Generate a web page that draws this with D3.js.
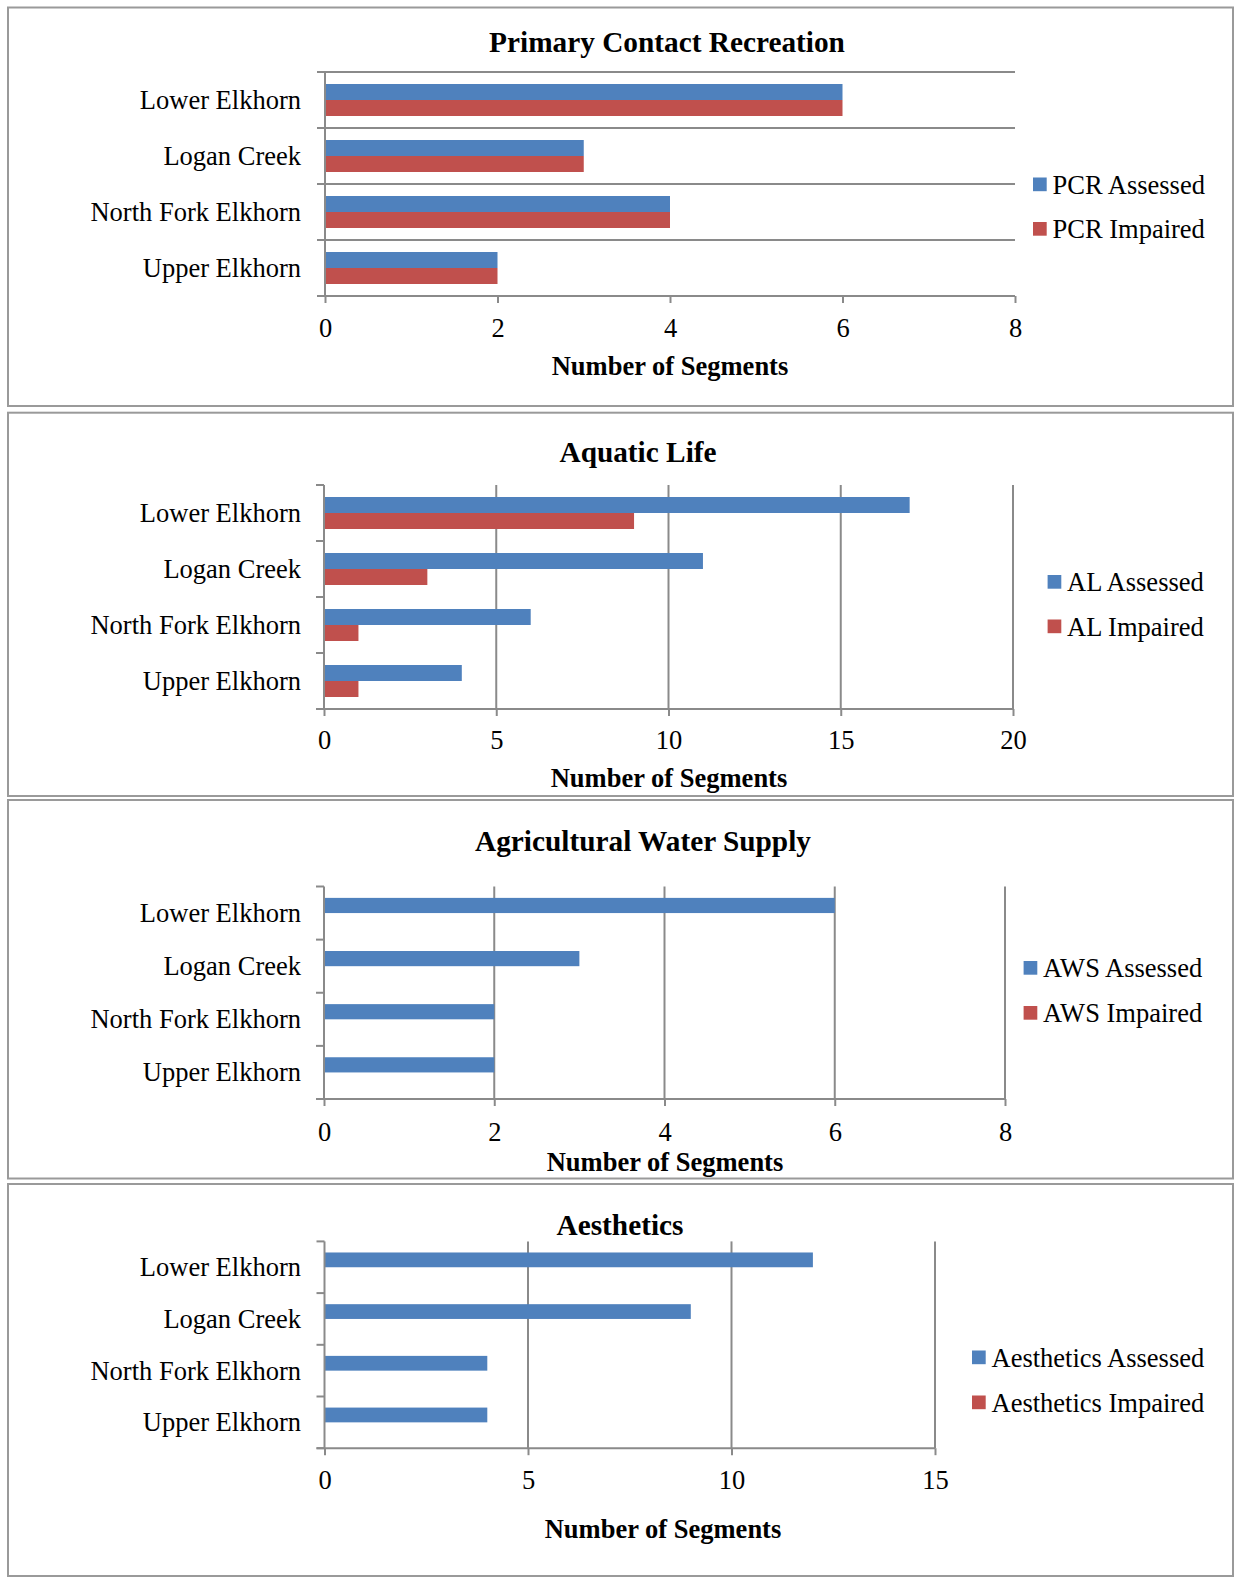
<!DOCTYPE html>
<html>
<head>
<meta charset="utf-8">
<script src="https://cdn.jsdelivr.net/npm/d3@7"></script>
<style>
  html, body { margin: 0; padding: 0; background: #ffffff; }
  svg { display: block; }
  text { font-family: "Liberation Serif", "Times New Roman", serif; fill: #000; }
</style>
</head>
<body>
<svg id="chart" width="1235" height="1579"></svg>
<script>
// Watershed segments: assessed vs. impaired, by designated use
const categories = ["Lower Elkhorn", "Logan Creek", "North Fork Elkhorn", "Upper Elkhorn"];

const pcrAssessed = [6, 3, 4, 2];
const pcrImpaired = [6, 3, 4, 2];
const alAssessed = [17, 11, 6, 4];
const alImpaired = [9, 3, 1, 1];
const awsAssessed = [6, 3, 2, 2];
const awsImpaired = [0, 0, 0, 0];
const aesAssessed = [12, 9, 4, 4];
const aesImpaired = [0, 0, 0, 0];

const pcrTicks = [0, 2, 4, 6, 8];
const alTicks = [0, 5, 10, 15, 20];
const awsTicks = [0, 2, 4, 6, 8];
const aesTicks = [0, 5, 10, 15];

const titles = ["Primary Contact Recreation", "Aquatic Life", "Agricultural Water Supply", "Aesthetics"];
const pcrLegend = ["PCR Assessed", "PCR Impaired"];
const alLegend = ["AL Assessed", "AL Impaired"];
const awsLegend = ["AWS Assessed", "AWS Impaired"];
const aesLegend = ["Aesthetics Assessed", "Aesthetics Impaired"];
const axisTitle = "Number of Segments";

const seriesColors = ["#4F81BD", "#C0504D"];
const gridColor = "#8a8a8a";
const frameColor = "#9a9a9a";
const FONT = "'Liberation Serif', 'Times New Roman', serif";
const FS = 26.5, TITLE_FS = 29.3;

const panels = [
  { title: titles[0], a: pcrAssessed, b: pcrImpaired, ticks: pcrTicks, legend: pcrLegend,
    box: [8, 7.5, 1233, 406], plot: [325, 1015, 72, 296], grid: "category",
    titleX: 667, titleY: 42, tickY: 328, axisTitleX: 670, axisTitleY: 366,
    legendX: 1033, legendY: [184.5, 229] },
  { title: titles[1], a: alAssessed, b: alImpaired, ticks: alTicks, legend: alLegend,
    box: [8, 412.7, 1233, 796], plot: [324, 1013, 485, 709], grid: "value",
    titleX: 638, titleY: 452, tickY: 740, axisTitleX: 669, axisTitleY: 778,
    legendX: 1047.6, legendY: [582, 626.5] },
  { title: titles[2], a: awsAssessed, b: awsImpaired, ticks: awsTicks, legend: awsLegend,
    box: [8, 800, 1233, 1178.5], plot: [324, 1005, 886.5, 1099], grid: "value",
    titleX: 643, titleY: 841, tickY: 1131.5, axisTitleX: 665, axisTitleY: 1162,
    legendX: 1023.6, legendY: [968, 1013] },
  { title: titles[3], a: aesAssessed, b: aesImpaired, ticks: aesTicks, legend: aesLegend,
    box: [8, 1184, 1233, 1576], plot: [324.5, 935, 1241.4, 1448.2], grid: "value",
    titleX: 620, titleY: 1225, tickY: 1480, axisTitleX: 663, axisTitleY: 1529,
    legendX: 972, legendY: [1357.5, 1402.5] }
];

const svg = d3.select("#chart");

function drawPanel(p) {
  const g = svg.append("g");
  const [bx0, by0, bx1, by1] = p.box;
  const [x0, x1, y0, y1] = p.plot;

  // frame
  g.append("rect")
    .attr("x", bx0).attr("y", by0)
    .attr("width", bx1 - bx0).attr("height", by1 - by0)
    .attr("fill", "#fff").attr("stroke", frameColor).attr("stroke-width", 2);

  const x = d3.scaleLinear().domain([p.ticks[0], p.ticks[p.ticks.length - 1]]).range([x0, x1]);
  // bar pair occupies 2 units of a 3.5-unit category slot (150% gap)
  const y = d3.scaleBand().domain(categories).range([y0, y1])
    .paddingInner(1.5 / 3.5).paddingOuter(0.75 / 3.5);
  const ySub = d3.scaleBand().domain([0, 1]).range([0, y.bandwidth()]);

  const boundaries = categories.map(c => y(c) - (y.step() - y.bandwidth()) / 2).concat([y1]);

  // gridlines
  if (p.grid === "category") {
    g.append("g").selectAll("line").data(boundaries.slice(0, -1)).join("line")
      .attr("x1", x0).attr("x2", x1).attr("y1", d => d).attr("y2", d => d)
      .attr("stroke", gridColor).attr("stroke-width", 2);
  } else {
    g.append("g").selectAll("line").data(p.ticks.slice(1)).join("line")
      .attr("x1", d => x(d)).attr("x2", d => x(d)).attr("y1", y0).attr("y2", y1)
      .attr("stroke", gridColor).attr("stroke-width", 2);
  }

  // bars
  const rows = categories.map((c, i) => ({ c, vals: [p.a[i], p.b[i]] }));
  const rowG = g.append("g").selectAll("g").data(rows).join("g")
    .attr("transform", d => `translate(0,${y(d.c)})`);
  rowG.selectAll("rect").data(d => d.vals.map((v, k) => ({ v, k }))).join("rect")
    .attr("x", x(0))
    .attr("y", d => ySub(d.k))
    .attr("width", d => x(d.v) - x(0))
    .attr("height", ySub.bandwidth())
    .attr("fill", d => seriesColors[d.k]);

  // bottom value axis
  const xAxis = d3.axisBottom(x).tickValues(p.ticks).tickSize(7).tickSizeOuter(0).tickFormat(d3.format("d"));
  const xg = g.append("g").attr("transform", `translate(0,${y1})`).call(xAxis)
    .attr("font-family", FONT);
  xg.select(".domain").attr("stroke", gridColor).attr("stroke-width", 2)
    .attr("d", `M${x0 - 8},0H${x1}`);
  xg.selectAll(".tick line").attr("stroke", gridColor).attr("stroke-width", 2);
  xg.selectAll(".tick text")
    .attr("y", p.tickY - y1).attr("dy", "0.34em")
    .style("font-size", FS + "px").style("font-family", FONT)
    .attr("fill", "#000");

  // left category axis with ticks at category boundaries
  g.append("line").attr("x1", x0).attr("x2", x0).attr("y1", y0).attr("y2", y1)
    .attr("stroke", gridColor).attr("stroke-width", 2);
  g.append("g").selectAll("line").data(boundaries).join("line")
    .attr("x1", x0 - 8).attr("x2", x0).attr("y1", d => d).attr("y2", d => d)
    .attr("stroke", gridColor).attr("stroke-width", 2);

  g.append("g").selectAll("text").data(categories).join("text")
    .attr("x", 301)
    .attr("y", d => y(d) + y.bandwidth() / 2)
    .attr("dy", "0.34em")
    .attr("text-anchor", "end")
    .style("font-size", FS + "px").style("font-family", FONT)
    .text(d => d);

  // chart title and axis title
  g.append("text").attr("x", p.titleX).attr("y", p.titleY).attr("dy", "0.34em")
    .attr("text-anchor", "middle").style("font-size", TITLE_FS + "px").style("font-weight", "bold")
    .style("font-family", FONT)
    .text(p.title);
  g.append("text").attr("x", p.axisTitleX).attr("y", p.axisTitleY).attr("dy", "0.34em")
    .attr("text-anchor", "middle").style("font-size", FS + "px").style("font-weight", "bold")
    .style("font-family", FONT)
    .text(axisTitle);

  // legend
  const lg = g.append("g").selectAll("g").data(p.legend).join("g")
    .attr("transform", (d, i) => `translate(${p.legendX},${p.legendY[i]})`);
  lg.append("rect").attr("x", 0).attr("y", -7).attr("width", 13.7).attr("height", 13.7)
    .attr("fill", (d, i) => seriesColors[i]);
  lg.append("text").attr("x", 19.5).attr("y", 0).attr("dy", "0.34em")
    .style("font-size", FS + "px").style("font-family", FONT).text(d => d);
}

panels.forEach(drawPanel);
</script>
</body>
</html>
